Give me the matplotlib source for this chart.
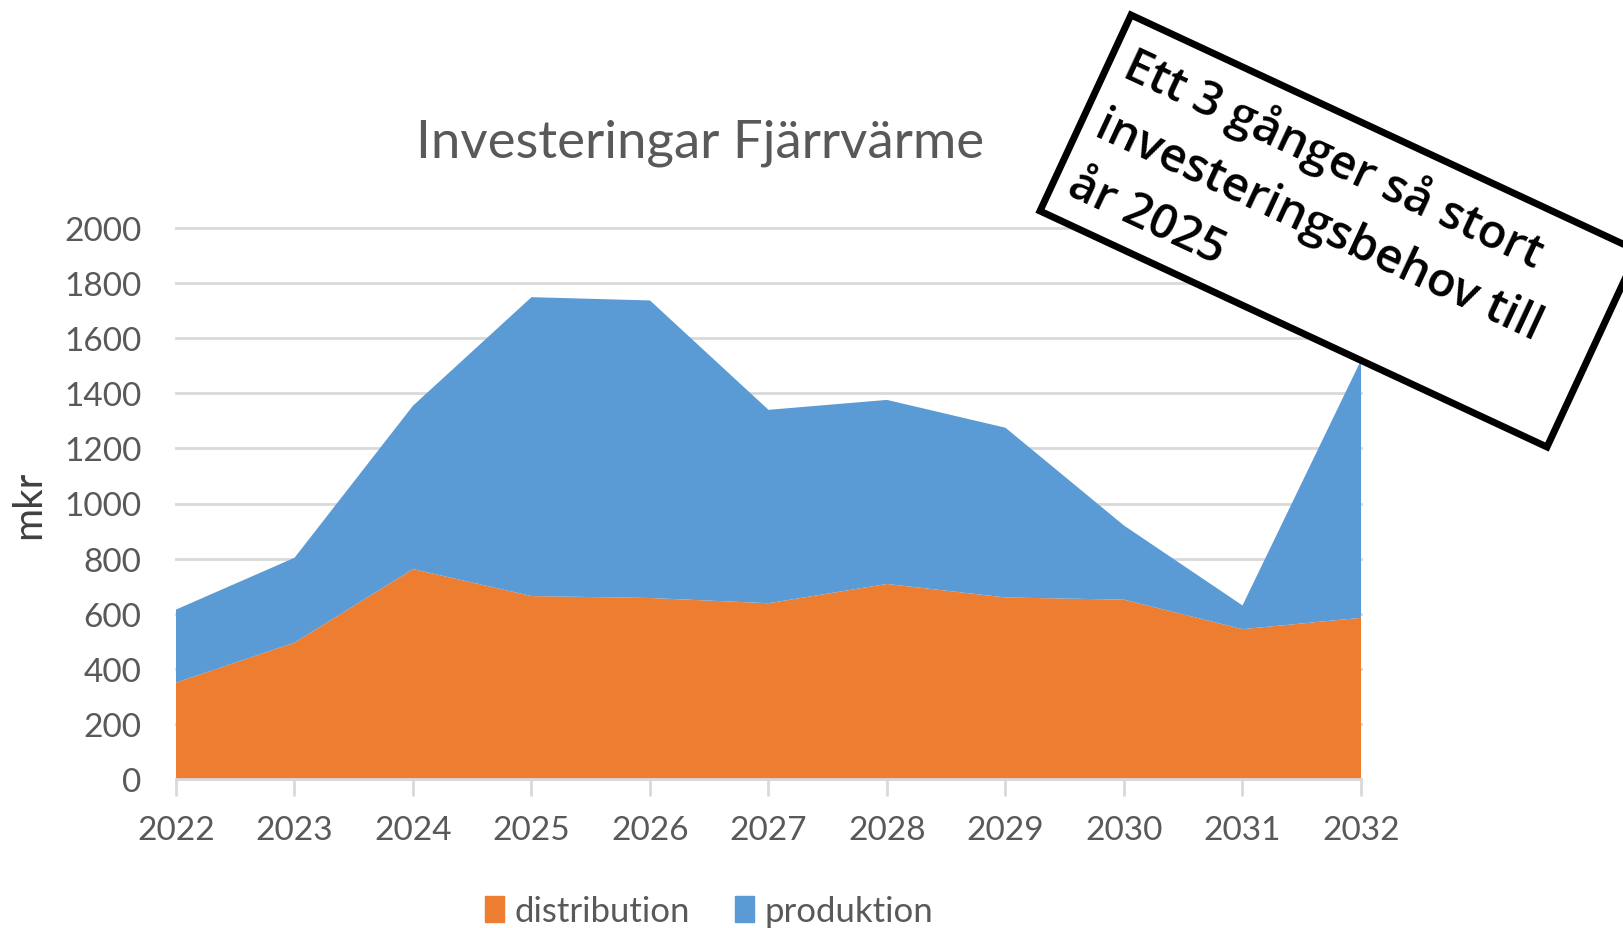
import matplotlib.pyplot as plt
from matplotlib.patches import Patch, Polygon
import numpy as np

W, H = 1623, 929

years = [2022, 2023, 2024, 2025, 2026, 2027, 2028, 2029, 2030, 2031, 2032]
distribution = [350, 495, 762, 664, 657, 638, 708, 659, 651, 544, 585]
total = [615, 803, 1355, 1749, 1737, 1340, 1376, 1275, 920, 630, 1520]
produktion = [t - d for t, d in zip(total, distribution)]

yticks = [0, 200, 400, 600, 800, 1000, 1200, 1400, 1600, 1800, 2000]

orange = '#ED7D31'
blue = '#5B9BD5'
grey_txt = '#595959'
grid_col = '#D9D9D9'

plt.rcParams['font.family'] = ['Lato', 'DejaVu Sans']

fig = plt.figure(figsize=(W / 100, H / 100), dpi=100)

# plot area in pixels
x0, x1 = 176, 1361
y0, y1 = 780, 229
ax = fig.add_axes([x0 / W, 1 - y0 / H, (x1 - x0) / W, (y0 - y1) / H])

ax.stackplot(years, distribution, produktion, colors=[orange, blue],
             labels=['distribution', 'produktion'], zorder=3, linewidth=0)

ax.set_xlim(years[0], years[-1])
ax.set_ylim(0, 2000)
ax.set_xticks(years)
ax.set_yticks(yticks)
ax.set_xticklabels([str(y) for y in years])
ax.tick_params(axis='x', colors=grid_col, length=12, width=2, direction='out',
               labelcolor=grey_txt, labelsize=24, pad=14)
ax.tick_params(axis='y', length=0, labelcolor=grey_txt, labelsize=24, pad=25)

for s in ['top', 'right', 'left']:
    ax.spines[s].set_visible(False)
ax.spines['bottom'].set_color(grid_col)
ax.spines['bottom'].set_linewidth(2)
ax.spines['bottom'].set_zorder(4)

ax.yaxis.grid(True, color=grid_col, linewidth=2, zorder=1)
for gl in ax.get_ygridlines():
    gl.set_clip_on(False)
ax.set_axisbelow(True)

ax.set_ylabel('mkr', fontsize=29, color='#404040', labelpad=12)

fig.text(700 / W, 1 - 143 / H, 'Investeringar Fjärrvärme', fontsize=38,
         color=grey_txt, ha='center', va='center')

handles = [Patch(color=orange, label='distribution'),
           Patch(color=blue, label='produktion')]
fig.legend(handles=handles, loc='center', bbox_to_anchor=(709 / W, 1 - 912 / H),
           ncol=2, frameon=False, fontsize=25, labelcolor=grey_txt,
           handlelength=0.55, handleheight=0.8, handletextpad=0.3, columnspacing=1.3)

# rotated callout box (pixel corners, top-left origin)
corners = [(1131, 16), (1638, 252), (1547, 448), (1040, 212)]
poly = Polygon([(cx / W, 1 - cy / H) for cx, cy in corners], closed=True,
               transform=fig.transFigure, facecolor='white', edgecolor='black',
               linewidth=5, zorder=10)
fig.patches.append(poly)

fig.text(1137 / W, 1 - 40 / H, 'Ett 3 gånger så stort\ninvesteringsbehov till\når 2025',
         family=['Open Sans', 'DejaVu Sans'], fontweight='semibold', fontsize=34,
         rotation=-25, rotation_mode='anchor', ha='left', va='top',
         linespacing=1.5, zorder=11)

fig.savefig('out.png', dpi=100)
